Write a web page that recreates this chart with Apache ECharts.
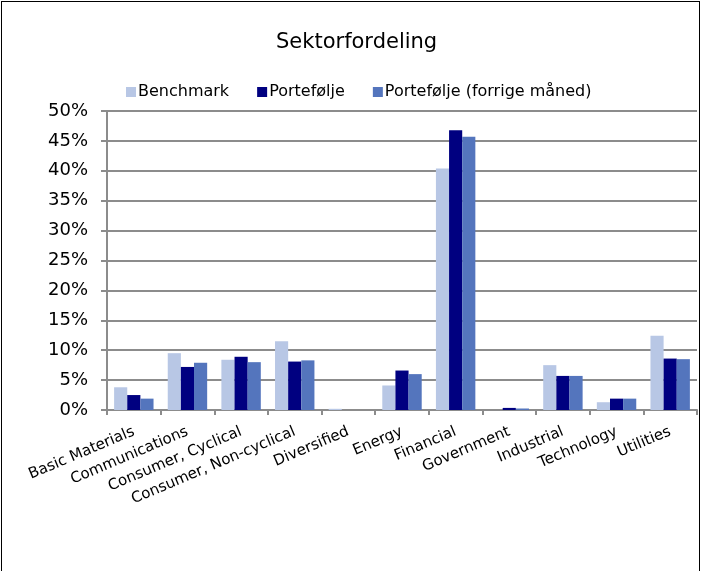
<!DOCTYPE html>
<html>
<head>
<meta charset="utf-8">
<title>Sektorfordeling</title>
<script src="https://cdn.jsdelivr.net/npm/echarts@6/dist/echarts.min.js"></script>
<style>
  html, body { margin: 0; padding: 0; background: #fff; }
  #frame { position: absolute; left: 1px; top: 1px; width: 699px; height: 600px; border: 1px solid #000; box-sizing: border-box; }
  #myChart { position: absolute; left: 0; top: 0; width: 706px; height: 571px; }
</style>
</head>
<body>
<div id="frame"></div>
<div id="myChart"></div>
<script>
// kategorier og serier (andel i %)
var categories = ["Basic Materials", "Communications", "Consumer, Cyclical", "Consumer, Non-cyclical",
  "Diversified", "Energy", "Financial", "Government", "Industrial", "Technology", "Utilities"];
var seriesNames = ["Benchmark", "Portefølje", "Portefølje (forrige måned)"];
var benchmark = [3.8, 9.5, 8.4, 11.5, 0.2, 4.1, 40.4, 0, 7.5, 1.3, 12.4];
var portefolje = [2.5, 7.2, 8.9, 8.1, 0, 6.6, 46.8, 0.35, 5.7, 1.9, 8.6];
var forrige = [1.9, 7.9, 8.0, 8.3, 0, 6.0, 45.7, 0.25, 5.7, 1.9, 8.5];
var colors = ["#b8c7e5", "#000080", "#5475bd"];

var chart = echarts.init(document.getElementById("myChart"));
var font = "DejaVu Sans";

var series = [];
[benchmark, portefolje, forrige].forEach(function (d, i) {
  series.push({
    name: seriesNames[i],
    type: "bar",
    barWidth: "24.5%",
    barGap: "0%",
    barCategoryGap: "26%",
    itemStyle: { color: colors[i] },
    data: d
  });
});

chart.setOption({
  animation: false,
  backgroundColor: "transparent",
  title: {
    text: "Sektorfordeling",
    left: 271,
    top: 27,
    textStyle: { fontFamily: font, fontSize: 21, fontWeight: "normal", color: "#000" }
  },
  legend: {
    top: 79,
    left: 121,
    itemWidth: 10,
    itemHeight: 10,
    itemGap: 28,
    icon: "rect",
    textStyle: { fontFamily: font, fontSize: 16, color: "#000", padding: [0, 0, 0, -3] },
    data: seriesNames
  },
  grid: { left: 107, right: 9, top: 111, bottom: 161, containLabel: false },
  xAxis: {
    type: "category",
    data: categories,
    axisLine: { lineStyle: { color: "#8c8c8c", width: 2 } },
    axisTick: { show: true, length: 5, lineStyle: { color: "#8c8c8c", width: 2 } },
    axisLabel: { interval: 0, rotate: 23, margin: 21, fontFamily: font, fontSize: 15, color: "#000" }
  },
  yAxis: {
    type: "value",
    min: 0,
    max: 50,
    interval: 5,
    axisLine: { show: true, lineStyle: { color: "#8c8c8c", width: 2 } },
    axisTick: { show: true, length: 6, lineStyle: { color: "#8c8c8c", width: 2 } },
    splitLine: { lineStyle: { color: "#8c8c8c", width: 2 } },
    axisLabel: { formatter: "{value}%", margin: 19, fontFamily: font, fontSize: 18, color: "#000" }
  },
  series: series
});
</script>
</body>
</html>
